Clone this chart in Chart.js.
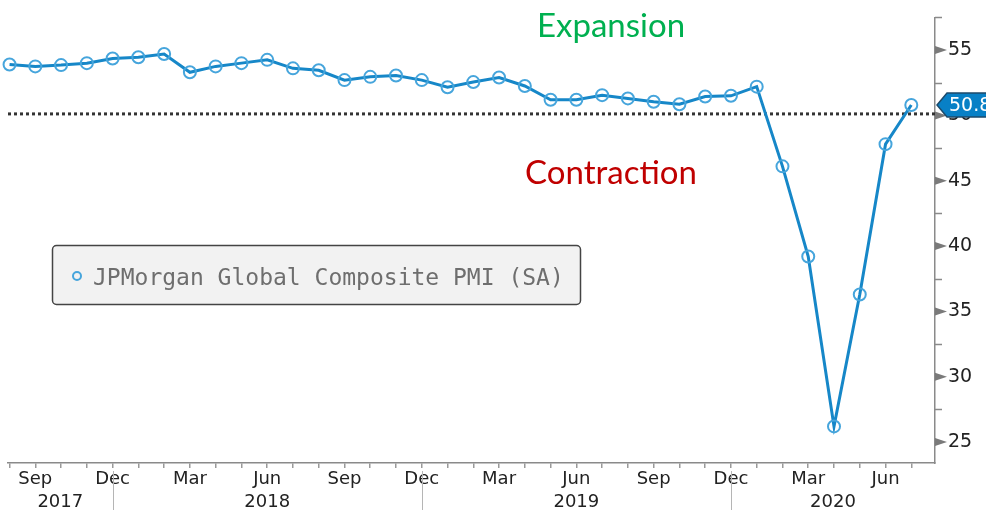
<!DOCTYPE html>
<html>
<head>
<meta charset="utf-8">
<script src="https://cdn.jsdelivr.net/npm/chart.js@4.4.1/dist/chart.umd.min.js"></script>
<style>
  html, body { margin: 0; padding: 0; background: #fff; }
  #wrap { width: 986px; height: 510px; }
</style>
</head>
<body>
<div id="wrap"><canvas id="pmiChart" width="986" height="510"></canvas></div>
<script>
const months = [
  "Aug 2017", "Sep 2017", "Oct 2017", "Nov 2017", "Dec 2017",
  "Jan 2018", "Feb 2018", "Mar 2018", "Apr 2018", "May 2018", "Jun 2018",
  "Jul 2018", "Aug 2018", "Sep 2018", "Oct 2018", "Nov 2018", "Dec 2018",
  "Jan 2019", "Feb 2019", "Mar 2019", "Apr 2019", "May 2019", "Jun 2019",
  "Jul 2019", "Aug 2019", "Sep 2019", "Oct 2019", "Nov 2019", "Dec 2019",
  "Jan 2020", "Feb 2020", "Mar 2020", "Apr 2020", "May 2020", "Jun 2020",
  "Jul 2020",
];

const pmi = [
  53.9, 53.75, 53.85, 54.0, 54.35,
  54.45, 54.7, 53.3, 53.75, 54.0, 54.25, 53.6, 53.45, 52.7, 52.95, 53.05, 52.7,
  52.15, 52.55, 52.9, 52.25, 51.2, 51.2, 51.55, 51.3, 51.05, 50.85, 51.45, 51.5,
  52.2, 46.1, 39.2, 26.2, 36.3, 47.8, 50.8,
];

const majorTicks = [25, 30, 35, 40, 45, 50, 55];
const minorTicks = [27.5, 32.5, 37.5, 42.5, 47.5, 52.5, 57.5];
const labelMonths = ["Sep", "Dec", "Mar", "Jun"];
const seriesName = "JPMorgan Global Composite PMI (SA)";
const neutralLevel = 50;

const LINE_COLOR = "rgb(22, 135, 200)";
const POINT_COLOR = "rgb(70, 165, 220)";
const AXIS_COLOR = "#8a8a8a";
const TEXT_COLOR = "#222";

Chart.defaults.font.family = "DejaVu Sans";

// extra drawing: 50 line, axis decorations, years, legend, notes, last value
const decorPlugin = {
  id: "decor",
  beforeDatasetsDraw(chart) {
    const { ctx, chartArea } = chart;
    const y = chart.scales.y.getPixelForValue(neutralLevel) - 1.5;
    ctx.save();
    ctx.strokeStyle = "#333";
    ctx.lineWidth = 3;
    ctx.setLineDash([3, 3]);
    ctx.beginPath();
    ctx.moveTo(chartArea.left, y);
    ctx.lineTo(chartArea.right, y);
    ctx.stroke();
    ctx.restore();
  },
  afterDraw(chart) {
    const { ctx, chartArea } = chart;
    const xs = chart.scales.x;
    const ys = chart.scales.y;
    const right = chartArea.right;
    ctx.save();

    // y axis: triangles on major values, short dashes on minor ones
    ctx.fillStyle = "#7a7a7a";
    majorTicks.forEach((v) => {
      const y = ys.getPixelForValue(v);
      ctx.beginPath();
      ctx.moveTo(right, y - 4);
      ctx.lineTo(right + 12, y);
      ctx.lineTo(right, y + 4);
      ctx.closePath();
      ctx.fill();
    });
    ctx.strokeStyle = AXIS_COLOR;
    ctx.lineWidth = 1.5;
    minorTicks.forEach((v) => {
      const y = Math.round(ys.getPixelForValue(v)) + 0.5;
      ctx.beginPath();
      ctx.moveTo(right, y);
      ctx.lineTo(right + 7, y);
      ctx.stroke();
    });

    // year separators and year labels
    const seps = [];
    months.forEach((m, i) => {
      if (m.startsWith("Dec")) seps.push({ x: xs.getPixelForValue(i), year: m.slice(4) });
    });
    ctx.strokeStyle = "#b5b5b5";
    ctx.lineWidth = 1;
    seps.forEach((s) => {
      const x = Math.round(s.x) + 0.5;
      ctx.beginPath();
      ctx.moveTo(x, chartArea.bottom + 8);
      ctx.lineTo(x, 510);
      ctx.stroke();
    });
    const years = [...new Set(months.map((m) => m.slice(4)))];
    const edges = [chartArea.left, ...seps.map((s) => s.x), right];
    ctx.fillStyle = TEXT_COLOR;
    ctx.font = "18px 'DejaVu Sans'";
    ctx.textAlign = "center";
    ctx.textBaseline = "alphabetic";
    years.forEach((yr, i) => {
      ctx.fillText(yr, (edges[i] + edges[i + 1]) / 2, 507);
    });

    // legend box
    ctx.beginPath();
    ctx.roundRect(52.5, 245.5, 528, 59, 4);
    ctx.fillStyle = "#f2f2f2";
    ctx.fill();
    ctx.strokeStyle = "#444";
    ctx.lineWidth = 1.5;
    ctx.stroke();
    ctx.beginPath();
    ctx.arc(77, 276, 4, 0, Math.PI * 2);
    ctx.strokeStyle = POINT_COLOR;
    ctx.lineWidth = 2;
    ctx.stroke();
    ctx.fillStyle = "#6e6e6e";
    ctx.font = "23px 'DejaVu Sans Mono'";
    ctx.textAlign = "left";
    ctx.fillText(chart.data.datasets[0].label, 93, 285);

    // expansion / contraction notes
    ctx.font = "33px Lato";
    ctx.textAlign = "center";
    ctx.fillStyle = "rgb(0, 176, 80)";
    ctx.fillText("Expansion", 611, 37);
    ctx.fillStyle = "rgb(192, 0, 0)";
    ctx.fillText("Contraction", 611, 184);

    // last value tag
    const last = pmi[pmi.length - 1];
    const ly = ys.getPixelForValue(last);
    ctx.beginPath();
    ctx.moveTo(right + 2, ly);
    ctx.lineTo(right + 12, ly - 12);
    ctx.lineTo(990, ly - 12);
    ctx.lineTo(990, ly + 12);
    ctx.lineTo(right + 12, ly + 12);
    ctx.closePath();
    ctx.fillStyle = "rgb(8, 128, 198)";
    ctx.fill();
    ctx.strokeStyle = "#1d4a6b";
    ctx.lineWidth = 1.5;
    ctx.stroke();
    ctx.fillStyle = "#fff";
    ctx.font = "19px 'DejaVu Sans'";
    ctx.textAlign = "left";
    ctx.textBaseline = "middle";
    ctx.fillText(last.toFixed(1), right + 14, ly + 1);

    ctx.restore();
  },
};

new Chart(document.getElementById("pmiChart"), {
  type: "line",
  data: {
    datasets: [
      {
        label: seriesName,
        data: pmi.map((v, i) => ({ x: i, y: v })),
        borderColor: LINE_COLOR,
        borderWidth: 3,
        pointRadius: 6,
        pointBorderWidth: 2,
        pointBorderColor: POINT_COLOR,
        pointBackgroundColor: "rgba(255, 255, 255, 0)",
        tension: 0,
        clip: false,
      },
    ],
  },
  options: {
    responsive: false,
    animation: false,
    devicePixelRatio: 1,
    layout: { padding: { left: 7, top: 13, right: 0, bottom: 0 } },
    plugins: {
      legend: { display: false },
      tooltip: { enabled: false },
    },
    scales: {
      x: {
        type: "linear",
        min: -0.06,
        max: 35.92,
        afterBuildTicks: (scale) => {
          scale.ticks = months.map((m, i) => ({ value: i }));
        },
        afterFit: (scale) => {
          scale.height = 47;
        },
        ticks: {
          autoSkip: false,
          maxRotation: 0,
          padding: 1,
          color: TEXT_COLOR,
          font: { size: 18 },
          callback: (value) => {
            const name = months[value] ? months[value].slice(0, 3) : "";
            return labelMonths.includes(name) ? name : "";
          },
        },
        grid: { drawOnChartArea: false, tickLength: 5, color: "#9a9a9a", lineWidth: 1.5 },
        border: { color: AXIS_COLOR, width: 1.5 },
      },
      y: {
        position: "right",
        min: 23.4,
        max: 57.5,
        afterBuildTicks: (scale) => {
          scale.ticks = majorTicks.map((v) => ({ value: v }));
        },
        afterFit: (scale) => {
          scale.width = 51;
        },
        ticks: {
          padding: 6,
          color: TEXT_COLOR,
          font: { size: 19 },
        },
        grid: { drawOnChartArea: false, tickLength: 7, color: "rgba(0, 0, 0, 0)" },
        border: { color: AXIS_COLOR, width: 1.5 },
      },
    },
  },
  plugins: [decorPlugin],
});
</script>
</body>
</html>
